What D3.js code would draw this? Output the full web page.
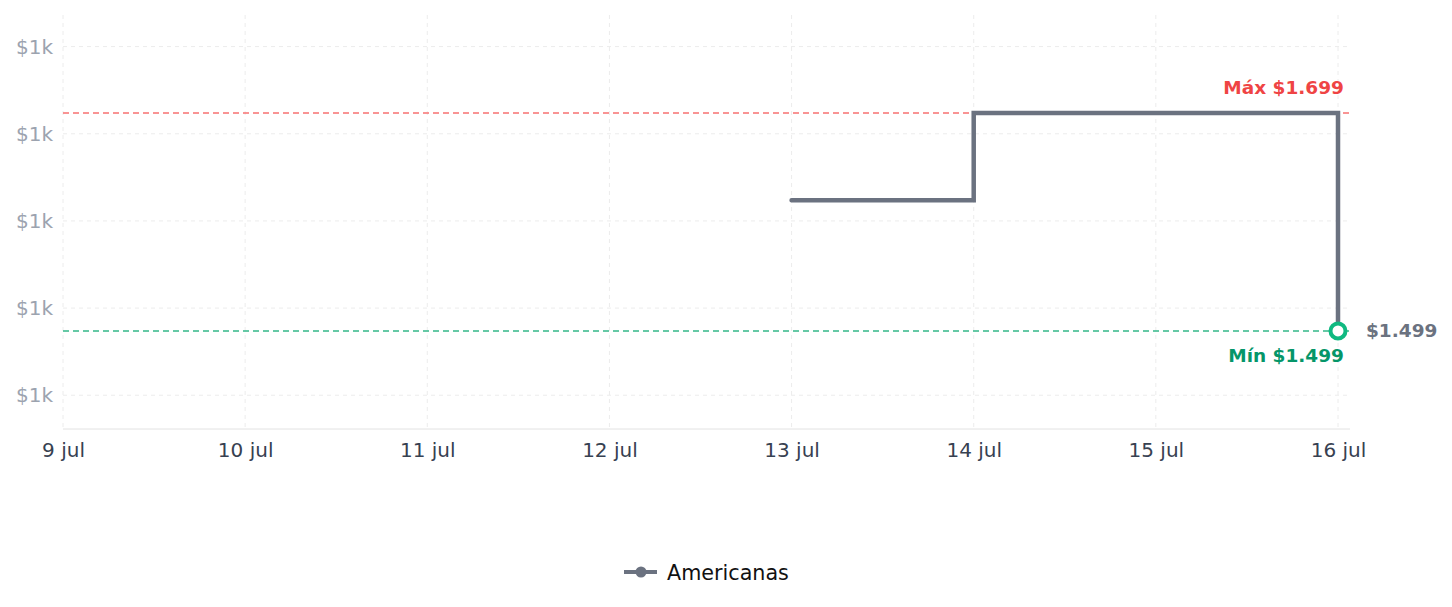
<!DOCTYPE html>
<html>
<head>
<meta charset="utf-8">
<script src="https://cdn.jsdelivr.net/npm/d3@7"></script>
<style>
    body { margin: 0; background: #fff; font-family: "DejaVu Sans", sans-serif; }
    svg { display: block; }
</style>
</head>
<body>
<script>
// data of the chart
const dates = ['2024-07-13', '2024-07-14', '2024-07-15', '2024-07-16'];
const prices = [1619, 1699, 1699, 1499];
const seriesName = 'Americanas';
const yTicks = [1440, 1520, 1600, 1680, 1760];
const xTickDates = ['2024-07-09', '2024-07-10', '2024-07-11', '2024-07-12', '2024-07-13', '2024-07-14', '2024-07-15', '2024-07-16'];
const maxPrice = 1699;
const minPrice = 1499;
const lastPrice = 1499;

const parse = d3.timeParse('%Y-%m-%d');
const data = dates.map((d, i) => ({ date: parse(d), price: prices[i] }));

const width = 1452, height = 607;
const svg = d3.select('body').append('svg')
    .attr('width', width)
    .attr('height', height);

// plot area
const margin = { left: 63, right: 1338, plotRight: 1350, top: 15, bottom: 429 };

const xScale = d3.scaleTime()
    .domain([parse(xTickDates[0]), parse(xTickDates[xTickDates.length - 1])])
    .range([margin.left, margin.right]);

const yScale = d3.scaleLinear()
    .domain([minPrice - 90, maxPrice + 90])
    .range([margin.bottom, margin.top]);

const fmtBR = v => '$' + d3.format(',')(v).replace(',', '.');

// gridlines
const grid = svg.append('g');
grid.selectAll('.hgrid')
    .data(yTicks)
    .enter()
    .append('line')
    .attr('x1', margin.left).attr('x2', margin.plotRight)
    .attr('y1', d => yScale(d)).attr('y2', d => yScale(d))
    .attr('stroke', '#ececec')
    .attr('stroke-dasharray', '4,4');
grid.selectAll('.vgrid')
    .data(xTickDates.map(parse))
    .enter()
    .append('line')
    .attr('x1', d => xScale(d)).attr('x2', d => xScale(d))
    .attr('y1', margin.top).attr('y2', margin.bottom)
    .attr('stroke', '#ececec')
    .attr('stroke-dasharray', '4,4');

// y axis labels
const yAxis = svg.append('g')
    .attr('transform', `translate(${margin.left - 7},0)`)
    .call(d3.axisLeft(yScale).tickValues(yTicks).tickSize(0).tickFormat(d => '$1k'));
yAxis.select('.domain').remove();
yAxis.selectAll('text')
    .attr('fill', '#9ca3af')
    .style('font-size', '20px')
    .style('font-family', '"DejaVu Sans", sans-serif');

// x axis
const xAxis = svg.append('g')
    .attr('transform', `translate(0,${margin.bottom})`)
    .call(d3.axisBottom(xScale).tickValues(xTickDates.map(parse)).tickSize(0)
        .tickFormat(d => d3.timeFormat('%-d')(d) + ' jul'));
xAxis.select('.domain').remove();
xAxis.append('line')
    .attr('x1', margin.left).attr('x2', margin.plotRight)
    .attr('stroke', '#e2e2e2');
xAxis.selectAll('text')
    .attr('fill', '#374151')
    .attr('dy', '1.25em')
    .style('font-size', '20px')
    .style('font-family', '"DejaVu Sans", sans-serif');

// max and min lines
svg.append('line')
    .attr('x1', margin.left).attr('x2', margin.plotRight)
    .attr('y1', yScale(maxPrice)).attr('y2', yScale(maxPrice))
    .attr('stroke', '#f87171')
    .attr('stroke-width', 1.5)
    .attr('stroke-dasharray', '6,4');
svg.append('line')
    .attr('x1', margin.left).attr('x2', margin.plotRight)
    .attr('y1', yScale(minPrice)).attr('y2', yScale(minPrice))
    .attr('stroke', '#34b889')
    .attr('stroke-width', 1.5)
    .attr('stroke-dasharray', '6,4');

svg.append('text')
    .attr('x', margin.plotRight - 6).attr('y', yScale(maxPrice) - 19)
    .attr('text-anchor', 'end')
    .attr('fill', '#ef4444')
    .style('font-weight', 'bold')
    .style('font-size', '18.5px')
    .text('Máx ' + fmtBR(maxPrice));
svg.append('text')
    .attr('x', margin.plotRight - 6).attr('y', yScale(minPrice) + 31)
    .attr('text-anchor', 'end')
    .attr('fill', '#059669')
    .style('font-weight', 'bold')
    .style('font-size', '18.5px')
    .text('Mín ' + fmtBR(minPrice));

// the step line
const line = d3.line()
    .x(d => xScale(d.date))
    .y(d => yScale(d.price))
    .curve(d3.curveStepAfter);

svg.append('path')
    .datum(data)
    .attr('d', line)
    .attr('fill', 'none')
    .attr('stroke', '#6b7280')
    .attr('stroke-width', 4.5)
    .attr('stroke-linecap', 'round');

// marker on the last price
const last = data[data.length - 1];
svg.append('circle')
    .attr('cx', xScale(last.date)).attr('cy', yScale(lastPrice))
    .attr('r', 7.5)
    .attr('fill', '#fff')
    .attr('stroke', '#10b981')
    .attr('stroke-width', 4);
svg.append('text')
    .attr('x', xScale(last.date) + 28).attr('y', yScale(lastPrice) + 6.5)
    .attr('fill', '#6b7280')
    .style('font-weight', 'bold')
    .style('font-size', '18.5px')
    .text(fmtBR(lastPrice));

// legend
const legend = svg.append('g').attr('transform', 'translate(624,572)');
legend.append('line')
    .attr('x1', 0).attr('x2', 33)
    .attr('stroke', '#6b7280')
    .attr('stroke-width', 4);
legend.append('circle')
    .attr('cx', 17).attr('r', 5.5)
    .attr('fill', '#6b7280');
legend.append('text')
    .attr('x', 43).attr('y', 8)
    .attr('fill', '#111')
    .style('font-size', '20.7px')
    .text(seriesName);
</script>
</body>
</html>
